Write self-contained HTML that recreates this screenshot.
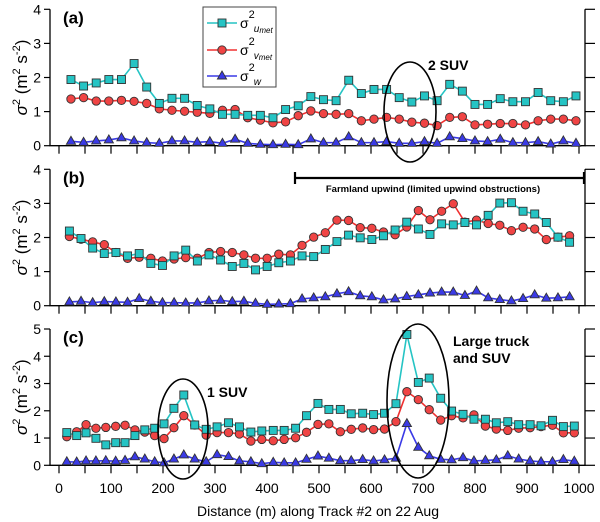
<!DOCTYPE html>
<html><head><meta charset="utf-8"><style>
body{margin:0;background:#fff}
svg{display:block;font-family:"Liberation Sans",Arial,sans-serif}
</style></head><body>
<svg id="chart" width="600" height="522" viewBox="0 0 600 522">
<g id="g"></g>
</svg>
<script>
const panelAU=[1.94,1.75,1.84,1.94,1.94,2.41,1.72,1.24,1.39,1.39,1.18,1.08,0.92,0.92,0.89,0.89,0.82,1.06,1.17,1.44,1.35,1.32,1.92,1.53,1.65,1.65,1.41,1.28,1.46,1.32,1.80,1.60,1.21,1.21,1.38,1.29,1.29,1.56,1.32,1.29,1.46];
const panelAV=[1.37,1.41,1.31,1.31,1.33,1.30,1.24,1.08,1.04,1.01,0.98,0.95,1.04,1.06,0.82,0.75,0.67,0.70,0.88,1.02,0.94,0.92,0.94,0.73,0.78,0.83,0.78,0.69,0.66,0.59,0.83,0.85,0.61,0.63,0.65,0.65,0.61,0.73,0.78,0.78,0.73];
const panelAW=[0.13,0.10,0.14,0.17,0.23,0.14,0.09,0.07,0.14,0.14,0.10,0.12,0.07,0.19,0.07,0.04,0.03,0.04,0.03,0.20,0.09,0.09,0.26,0.09,0.09,0.12,0.07,0.07,0.12,0.07,0.26,0.21,0.14,0.12,0.19,0.09,0.09,0.12,0.05,0.14,0.07];
const panelBU=[2.19,1.97,1.69,1.53,1.56,1.46,1.53,1.24,1.18,1.46,1.63,1.31,1.49,1.34,1.15,1.24,1.05,1.15,1.26,1.31,1.46,1.44,1.65,1.88,2.07,1.99,1.94,2.05,2.22,2.45,2.25,2.09,2.40,2.37,2.44,2.37,2.65,3.01,3.02,2.77,2.69,2.44,2.01,1.86];
const panelBV=[2.03,1.95,1.87,1.79,1.56,1.39,1.42,1.39,1.31,1.37,1.41,1.39,1.56,1.59,1.56,1.49,1.39,1.39,1.51,1.49,1.77,2.01,2.14,2.51,2.50,2.29,2.27,2.16,2.08,2.31,2.79,2.52,2.77,2.99,2.45,2.51,2.41,2.36,2.20,2.30,2.25,1.94,2.01,2.05];
const panelBW=[0.11,0.13,0.09,0.12,0.11,0.10,0.21,0.13,0.09,0.09,0.08,0.08,0.14,0.16,0.12,0.13,0.07,0.04,0.05,0.06,0.20,0.23,0.26,0.35,0.41,0.29,0.26,0.17,0.20,0.27,0.32,0.37,0.40,0.40,0.30,0.43,0.23,0.18,0.14,0.21,0.32,0.22,0.23,0.26];
const panelCX=[15,34,52,71,90,109,127,146,165,184,202,221,240,261,283,304,326,347,369,390,412,433,455,476,498,519,541,562,584,605,626,648,669,691,712,734,755,777,798,820,841,863,884,906,927,949,970,991];
const panelCU=[1.20,1.09,1.19,0.99,0.75,0.83,0.83,1.09,1.30,1.36,1.52,2.09,2.58,1.48,1.32,1.41,1.56,1.41,1.22,1.26,1.28,1.28,1.36,1.82,2.27,2.05,2.05,1.89,1.91,1.86,1.91,2.26,4.80,3.04,3.20,2.46,1.99,1.87,1.69,1.69,1.56,1.60,1.49,1.49,1.45,1.65,1.42,1.44];
const panelCV=[1.05,1.23,1.49,1.36,1.39,1.43,1.47,1.30,1.22,1.09,0.98,1.38,1.82,1.48,1.11,1.20,1.20,1.15,0.89,0.95,0.90,0.95,1.01,1.21,1.50,1.52,1.23,1.32,1.37,1.31,1.33,1.60,2.70,2.41,2.04,1.66,1.82,1.74,1.85,1.44,1.33,1.28,1.36,1.38,1.42,1.47,1.19,1.19];
const panelCW=[0.13,0.12,0.16,0.16,0.17,0.15,0.18,0.31,0.23,0.13,0.09,0.23,0.38,0.23,0.13,0.39,0.32,0.16,0.13,0.06,0.11,0.09,0.09,0.22,0.34,0.26,0.17,0.17,0.21,0.16,0.20,0.26,1.53,0.66,0.35,0.22,0.20,0.28,0.16,0.18,0.20,0.35,0.23,0.16,0.13,0.13,0.21,0.15];
const xTicks=[0,100,200,300,400,500,600,700,800,900,1000];

const NS="http://www.w3.org/2000/svg";
const g=document.getElementById('g');
function el(tag,attrs,parent,text){const e=document.createElementNS(NS,tag);for(const k in attrs)e.setAttribute(k,attrs[k]);if(text!==undefined)e.textContent=text;(parent||g).appendChild(e);return e;}
const X=d=>59+d*0.52;
const C={u:{fill:'#25c4c4',line:'#25c4c4'},v:{fill:'#f04444',line:'#f03030'},w:{fill:'#3a3ae6',line:'#3a3ae6'}};

function marker(kind,x,y,parent){
  let m;
  if(kind==='u'){m=el('rect',{x:x-4,y:y-4,width:8,height:8,fill:C.u.fill,stroke:'#333','stroke-width':0.9},parent);}
  else if(kind==='v'){m=el('circle',{cx:x,cy:y,r:4.2,fill:C.v.fill,stroke:'#333','stroke-width':0.9},parent);}
  else {m=el('polygon',{points:`${x},${y-5} ${x+4.6},${y+3} ${x-4.6},${y+3}`,fill:C.w.fill,stroke:'#333','stroke-width':0.9},parent);}
  return m;
}

const panels=[
 {name:'a',y0:145.7,yTop:9.3,max:4,x0:23,step:24.28,U:panelAU,V:panelAV,W:panelAW},
 {name:'b',y0:305.7,yTop:169.3,max:4,x0:20,step:22.37,U:panelBU,V:panelBV,W:panelBW},
 {name:'c',y0:465.3,yTop:329,max:5,xs:panelCX,U:panelCU,V:panelCV,W:panelCW}
];

panels.forEach(p=>{
  const Y=v=>p.y0-(p.y0-p.yTop)*v/p.max;
  const dist=i=>p.xs?p.xs[i]:p.x0+i*p.step;
  const pg=el('g',{});
  
  
  const ax=el('path',{d:`M50,${p.yTop}V${p.y0}H585V${p.yTop}`,fill:'none',stroke:'#000','stroke-width':1.3},pg);
  
  
  for(let v=0;v<=p.max;v++){
    el('line',{x1:44,x2:50,y1:Y(v),y2:Y(v),stroke:'#000','stroke-width':1.2},pg);
    el('line',{x1:585,x2:595,y1:Y(v),y2:Y(v),stroke:'#000','stroke-width':1.2},pg);
    const t=el('text',{x:41,y:Y(v)+5,'text-anchor':'end','font-size':14},pg,String(v));
    
    
  }
  for(let d=0;d<=1000;d+=50){el('line',{x1:X(d),x2:X(d),y1:p.y0,y2:p.y0+8,stroke:'#000','stroke-width':1.2},pg);}
  const yt=el('text',{transform:`translate(27,${(p.y0+p.yTop)/2}) rotate(-90)`,'text-anchor':'middle','font-size':17},pg);
  
  
  yt.innerHTML='<tspan font-style="italic">σ</tspan><tspan dy="-7" font-size="11">2</tspan><tspan dy="7"> (m</tspan><tspan dy="-7" font-size="11">2</tspan><tspan dy="7"> s</tspan><tspan dy="-7" font-size="11">-2</tspan><tspan dy="7">)</tspan>';
  const lab=el('text',{x:63,y:p.yTop+14,'font-size':17,'font-weight':'bold'},pg,'('+p.name+')');
  
  
  [['w',p.W],['v',p.V],['u',p.U]].forEach(([k,arr])=>{
    const pts=arr.map((v,i)=>[X(dist(i)),Y(v)]);
    const ln=el('polyline',{points:pts.map(q=>q.join(',')).join(' '),fill:'none',stroke:C[k].line,'stroke-width':1.6},pg);
    
    
    pts.forEach(q=>{const m=marker(k,q[0],q[1],pg);
      
      });
  });
});
xTicks.forEach(d=>{const t=el('text',{x:X(d),y:493,'text-anchor':'middle','font-size':14},g,String(d));
  
  });
const xt=el('text',{x:318,y:516,'text-anchor':'middle','font-size':14},g,'Distance (m) along Track #2 on 22 Aug');



function ell(cx,cy,rx,ry,name){const e=el('ellipse',{cx,cy,rx,ry,fill:'none',stroke:'#000','stroke-width':1.6});
  
  }
ell(410,112,26,50,'ellipse-2-suv');
ell(183,429,25,50,'ellipse-1-suv');
ell(418,401,31,77,'ellipse-truck-suv');
function txt(x,y,s,name,fs){const t=el('text',{x,y,'font-size':fs||14,'font-weight':'bold'},g,s);
  
  }
txt(428,70,'2 SUV','annotation-2-suv');
txt(207,397,'1 SUV','annotation-1-suv');
txt(453,346,'Large truck','annotation-truck-line1');
txt(453,363,'and SUV','annotation-truck-line2');
const fl=el('path',{d:'M295,172V184M295,178H584M584,172V184',stroke:'#000','stroke-width':2.2,fill:'none'});


const ft=el('text',{x:433,y:192,'text-anchor':'middle','font-size':9.5,'font-weight':'bold'},g,'Farmland upwind (limited upwind obstructions)');



const lg=el('g',{});


el('rect',{x:203,y:7,width:73,height:80,fill:'#fff',stroke:'#444','stroke-width':1},lg);
[['u','u','met',23],['v','v','met',50],['w','w','',76]].forEach(([k,s,sub,y])=>{
  const e=el('g',{},lg);
  
  
  el('line',{x1:207,x2:237,y1:y,y2:y,stroke:C[k].line,'stroke-width':1.6},e);
  marker(k,222,y,e);
  const t=el('text',{x:240,y:y+5,'font-size':14},e);
  t.innerHTML=`σ<tspan dy="-10" font-size="11">2</tspan><tspan dx="-1" dy="14" font-size="10" font-style="italic">${s}</tspan>`+(sub?`<tspan dy="1" font-size="8" font-style="italic">${sub}</tspan>`:'');
});
</script>
</body></html>
